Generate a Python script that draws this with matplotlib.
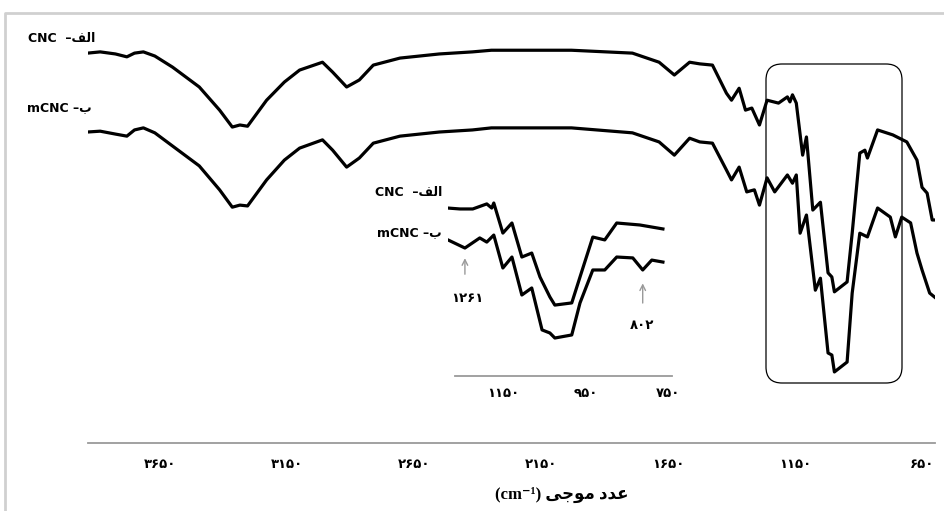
import matplotlib
matplotlib.use("Agg")
import matplotlib.pyplot as plt
from matplotlib.patches import FancyBboxPatch

# main spectra: wavenumber (cm-1) and transmittance-like values
wn_cnc = [3935, 3885, 3825, 3780, 3750, 3715, 3670, 3600, 3495, 3415, 3365, 3335, 3305,
          3230, 3160, 3100, 3010, 2970, 2915, 2865, 2810, 2705, 2550, 2420, 2345, 2030,
          1790, 1685, 1625, 1565, 1525, 1475, 1420, 1400, 1370, 1345, 1320, 1290, 1260,
          1215, 1180, 1170, 1160, 1145, 1120, 1105, 1080, 1050, 1020, 1005, 995, 945,
          925, 895, 875, 865, 825, 765, 710, 670, 650, 630, 610, 600]
t_cnc = [94.4, 94.7, 94.2, 93.5, 94.4, 94.7, 93.7, 91.0, 86.2, 80.6, 76.5, 77.0, 76.7,
         83.0, 87.4, 90.3, 92.2, 89.8, 86.2, 87.9, 91.5, 93.2, 94.2, 94.7, 95.1, 95.1,
         94.4, 92.2, 89.1, 92.2, 91.8, 91.5, 84.7, 83.0, 85.9, 80.6, 81.1, 77.0, 83.0,
         82.3, 83.8, 82.6, 84.3, 82.3, 69.7, 74.1, 56.4, 58.3, 41.2, 40.2, 36.6, 39.0,
         50.8, 70.2, 70.9, 69.0, 75.8, 74.6, 72.9, 68.5, 61.9, 60.5, 54.0, 54.0]

wn_mcnc = [3935, 3885, 3825, 3780, 3750, 3715, 3670, 3600, 3495, 3415, 3365, 3335, 3305,
           3230, 3160, 3100, 3010, 2970, 2915, 2865, 2810, 2705, 2550, 2420, 2345, 2030,
           1790, 1685, 1625, 1565, 1525, 1475, 1420, 1400, 1370, 1340, 1310, 1290, 1260,
           1230, 1180, 1160, 1145, 1130, 1105, 1070, 1050, 1020, 1005, 995, 945, 925,
           895, 865, 825, 775, 755, 730, 695, 670, 650, 620, 600]
t_mcnc = [75.3, 75.5, 74.8, 74.3, 75.8, 76.3, 75.1, 71.9, 67.1, 61.3, 57.1, 57.6, 57.4,
          63.7, 68.5, 71.4, 73.4, 70.9, 66.8, 69.0, 72.6, 74.3, 75.3, 75.8, 76.3, 76.3,
          75.1, 72.9, 69.7, 73.8, 72.9, 72.6, 66.1, 63.7, 66.8, 60.8, 61.3, 57.6, 64.2,
          60.8, 64.9, 62.9, 64.9, 50.8, 55.2, 37.0, 39.9, 21.8, 21.3, 17.2, 19.6, 36.3,
          50.8, 49.9, 56.9, 54.7, 49.9, 54.7, 53.3, 46.0, 41.9, 36.3, 35.3]

# inset (fingerprint region)
wn_in_cnc = [1283, 1254, 1223, 1189, 1177, 1172, 1150, 1128, 1104, 1080, 1060, 1036,
             1024, 983, 963, 932, 903, 874, 818, 762]
t_in_cnc = [93.3, 92.8, 92.8, 95.6, 93.3, 96.1, 79.4, 85.0, 66.1, 68.3, 55.0, 43.9,
            39.4, 40.6, 55.0, 77.2, 75.6, 85.0, 83.9, 81.7]
wn_in_mcnc = [1283, 1242, 1206, 1189, 1172, 1150, 1128, 1104, 1080, 1055, 1036, 1024,
              983, 963, 932, 903, 874, 835, 811, 789, 762]
t_in_mcnc = [75.6, 71.1, 76.7, 74.4, 78.3, 60.0, 66.1, 45.0, 48.9, 25.6, 23.9, 21.1,
             22.8, 40.6, 58.9, 58.9, 66.1, 65.6, 58.9, 64.4, 63.3]

main_ticks = [3650, 3150, 2650, 2150, 1650, 1150, 650]
main_ticklabels = ["۳۶۵۰", "۳۱۵۰", "۲۶۵۰", "۲۱۵۰", "۱۶۵۰", "۱۱۵۰", "۶۵۰"]
inset_ticks = [1150, 950, 750]
inset_ticklabels = ["۱۱۵۰", "۹۵۰", "۷۵۰"]

# Persian strings written in visual (left-to-right) order with presentation forms
lbl_cnc = "CNC  \u2013\uFED2\uFEDF\uFE8D"
lbl_mcnc = "mCNC \u2013\uFE8F"
xlabel = "(cm\u207b\u00b9) \uFBFD\uFE9F\uFEEE\uFEE3 \uFEA9\uFEAA\uFECB"

fig = plt.figure(figsize=(9.44, 5.11), dpi=100)

ax = fig.add_axes([88/944, 68/511, 847/944, 413/511])
ax.plot(wn_cnc, t_cnc, color="black", lw=2.3, solid_joinstyle="round")
ax.plot(wn_mcnc, t_mcnc, color="black", lw=2.3, solid_joinstyle="round")
ax.set_xlim(3933, 599)
ax.set_ylim(0, 100)
ax.set_yticks([])
ax.set_xticks(main_ticks)
ax.set_xticklabels(main_ticklabels, fontsize=9.5, fontweight="bold")
ax.tick_params(axis="x", length=0, pad=11)
for s in ["top", "right", "left"]:
    ax.spines[s].set_visible(False)
ax.spines["bottom"].set_color("#9a9a9a")
ax.spines["bottom"].set_linewidth(1.3)
ax.patch.set_alpha(0)

fig.text(562/944, 1 - 495/511, xlabel, ha="center", va="center", fontsize=12,
         fontweight="bold", family=["Liberation Serif", "DejaVu Sans"])

# inset
axi = fig.add_axes([448/944, 135/511, 224/944, 180/511])
axi.plot(wn_in_cnc, t_in_cnc, color="black", lw=2.3, solid_joinstyle="round")
axi.plot(wn_in_mcnc, t_in_mcnc, color="black", lw=2.3, solid_joinstyle="round")
axi.set_xlim(1283, 740)
axi.set_ylim(0, 100)
axi.set_yticks([])
axi.set_xticks(inset_ticks)
axi.set_xticklabels(inset_ticklabels, fontsize=9.5, fontweight="bold")
axi.tick_params(axis="x", length=0, pad=8)
for s in ["top", "right", "left"]:
    axi.spines[s].set_visible(False)
axi.spines["bottom"].set_color("#9a9a9a")
axi.spines["bottom"].set_linewidth(1.3)
axi.spines["bottom"].set_bounds(1266, 740)
axi.patch.set_alpha(0)

axi.annotate("", xy=(1242, 67), xytext=(1242, 55),
             arrowprops=dict(arrowstyle="->", color="#999999", lw=1))
axi.text(1237, 43, "۱۲۶۱", ha="center", va="center", fontsize=9.5, fontweight="bold")
axi.annotate("", xy=(811, 53), xytext=(811, 39),
             arrowprops=dict(arrowstyle="->", color="#999999", lw=1))
axi.text(813, 28, "۸۰۲", ha="center", va="center", fontsize=9.5, fontweight="bold")

# series labels
fig.text(95/944, 1 - 38/511, lbl_cnc, ha="right", va="center", fontsize=9, fontweight="bold")
fig.text(92/944, 1 - 108/511, lbl_mcnc, ha="right", va="center", fontsize=9, fontweight="bold")
fig.text(442/944, 1 - 193/511, lbl_cnc, ha="right", va="center", fontsize=9, fontweight="bold")
fig.text(442/944, 1 - 233/511, lbl_mcnc, ha="right", va="center", fontsize=9, fontweight="bold")

# rounded box around the zoomed region
box = FancyBboxPatch((7.66, 1.28), 1.36, 3.19, boxstyle="round,pad=0,rounding_size=0.16",
                     transform=fig.dpi_scale_trans, fill=False, ec="black", lw=0.9)
fig.patches.append(box)

# light frame of the source image
fig.add_artist(plt.Line2D([5/944, 5/944, 1], [0, 1 - 13/511, 1 - 13/511],
                          transform=fig.transFigure, color="#d0d0d0", lw=2))

fig.savefig("out.png", dpi=100)
